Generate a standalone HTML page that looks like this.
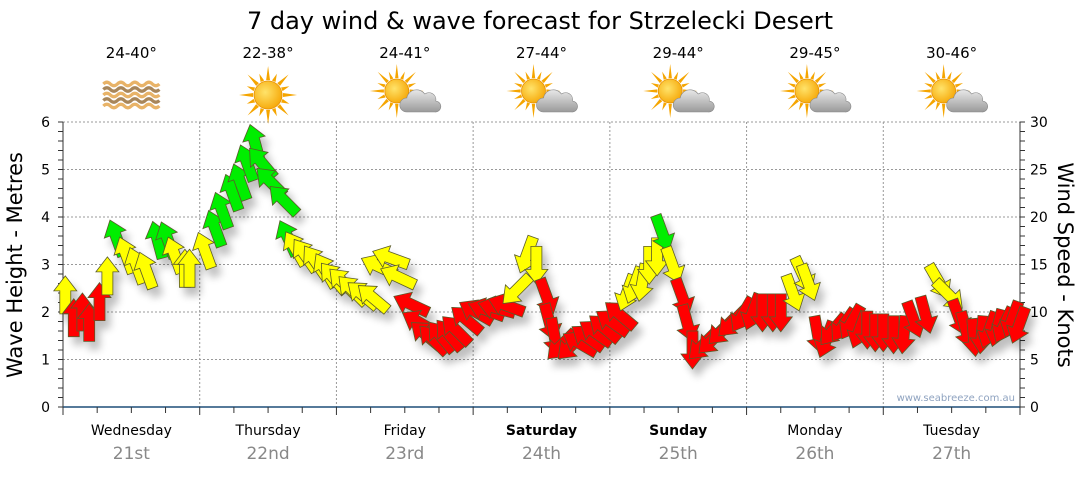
<!DOCTYPE html>
<html><head><meta charset="utf-8"><style>
html,body{margin:0;padding:0;background:#fff;}
svg text{font-family:"DejaVu Sans","Liberation Sans",sans-serif;}
</style></head><body>
<svg id="chart" width="1080" height="475" viewBox="0 0 1080 475" xmlns="http://www.w3.org/2000/svg">
<defs>
<filter id="sh" x="-50%" y="-50%" width="200%" height="200%"><feGaussianBlur in="SourceAlpha" stdDeviation="4"/><feOffset dx="5" dy="8" result="b"/><feComponentTransfer><feFuncA type="linear" slope="0.25"/></feComponentTransfer><feMerge><feMergeNode/><feMergeNode in="SourceGraphic"/></feMerge></filter>
<radialGradient id="sunG" cx="0.4" cy="0.4" r="0.7"><stop offset="0" stop-color="#ffe36a"/><stop offset="1" stop-color="#f5a300"/></radialGradient>
<linearGradient id="cloudG" x1="0" y1="0" x2="0" y2="1"><stop offset="0" stop-color="#e8e8e8"/><stop offset="1" stop-color="#9a9a9a"/></linearGradient>
</defs>
<text x="540" y="29" text-anchor="middle" font-size="24" fill="#000">7 day wind &amp; wave forecast for Strzelecki Desert</text>
<g id="grid"></g>
<g id="axes"></g>
<g id="icons"></g>
<g id="marks" filter="url(#sh)"></g>
<text x="1015" y="401" text-anchor="end" font-size="10" fill="#8fa3c0">www.seabreeze.com.au</text>
<text transform="translate(22,265) rotate(-90)" text-anchor="middle" font-size="21" fill="#000">Wave Height - Metres</text>
<text transform="translate(1058,265) rotate(90)" text-anchor="middle" font-size="21" fill="#000">Wind Speed - Knots</text>
</svg>
<script>
const dayNames = ["Wednesday","Thursday","Friday","Saturday","Sunday","Monday","Tuesday"];
const dayDates = ["21st","22nd","23rd","24th","25th","26th","27th"];
const boldDays = [false,false,false,true,true,false,false];
const tempRanges = ["24-40°","22-38°","24-41°","27-44°","29-44°","29-45°","30-46°"];
const iconTypes = ["haze","sun","partly","partly","partly","partly","partly"];
const leftTicks = [0,1,2,3,4,5,6];
const rightTicks = [0,5,10,15,20,25,30];
const hours = [0.4,1.9,3.4,4.6,6.4,7.8,9.4,11.1,12.9,14.6,16.6,18.4,19.6,21.4,22.2,24.9,26.7,27.9,29.7,31.1,32.3,33.7,34.9,36.4,38.7,39.5,40.8,42.5,44.3,46.1,47.5,49.2,50.8,52.6,54.4,55.4,57.5,58.8,61.1,62.5,63.7,65.0,66.4,67.8,69.0,70.8,72.5,74.3,76.1,77.8,79.6,81.4,83.1,84.9,85.4,86.3,87.5,89.3,90.7,92.1,93.5,95.0,96.4,97.8,99.0,100.3,101.7,102.9,104.3,105.2,107.0,108.7,109.6,110.5,112.3,114.0,115.8,117.5,119.3,121.1,122.8,124.6,126.0,128.1,129.9,130.8,132.5,134.0,135.2,137.0,138.4,139.8,141.2,142.6,144.0,145.8,147.6,149.3,151.4,153.7,155.5,157.3,158.5,159.9,161.3,162.6,164.0,165.2,166.6,167.8];
const windKnots = [11.8,9.4,10.0,8.9,11.1,13.8,17.8,16.0,14.9,14.4,17.6,17.6,16.0,14.6,14.6,16.5,18.8,20.7,22.6,23.7,25.7,27.8,25.7,23.7,21.8,17.8,16.7,16.0,15.3,14.4,13.6,13.1,12.3,11.8,11.5,14.8,15.7,13.7,10.8,8.9,7.6,7.1,7.4,7.6,8.1,9.2,10.0,10.2,10.4,10.7,12.3,16.0,14.9,11.6,8.9,7.4,6.5,6.5,6.7,7.3,7.8,8.3,8.9,9.7,12.0,12.8,13.1,14.9,15.8,18.3,14.9,11.6,8.8,6.0,6.5,7.1,8.1,8.9,9.7,10.0,9.9,9.9,9.9,12.0,13.9,13.1,7.6,7.1,8.1,8.6,8.9,8.1,8.1,7.8,7.8,7.6,7.6,9.2,9.7,13.2,11.8,9.4,8.1,7.3,7.6,8.1,8.3,8.6,9.2,8.6];
const windDir = [0,0,0,0,0,0,-20,-20,-20,-20,-15,-20,-20,0,0,-20,-20,-20,-20,-20,-20,-15,-40,-45,-45,-25,-30,-35,-35,-30,-40,-45,-45,-50,-50,-65,-70,-65,-65,-60,-50,-45,-40,-40,-45,-50,-60,-70,-75,-70,225,200,180,160,165,170,225,225,-60,-55,-55,-50,-55,-50,200,200,190,180,180,160,160,160,165,180,225,225,225,225,210,200,180,180,180,160,155,160,170,200,220,215,210,200,180,180,180,180,185,160,165,150,135,160,165,175,185,200,195,205,200,200];
const windLevel = ["Y","R","R","R","R","Y","G","Y","Y","Y","G","G","Y","Y","Y","Y","G","G","G","G","G","G","G","G","G","G","Y","Y","Y","Y","Y","Y","Y","Y","Y","Y","Y","Y","R","R","R","R","R","R","R","R","R","R","R","R","Y","Y","Y","R","R","R","R","R","R","R","R","R","R","R","Y","Y","Y","Y","Y","G","Y","R","R","R","R","R","R","R","R","R","R","R","R","Y","Y","Y","R","R","R","R","R","R","R","R","R","R","R","R","R","Y","Y","R","R","R","R","R","R","R","R","R"];

const X0=63, X1=1020, Y0=407, Y1=122;
const DAYW=(X1-X0)/7;
const xH = h => X0 + h*DAYW/24;
const yM = m => Y0 - m*(Y0-Y1)/6;
const yK = k => Y0 - k*(Y0-Y1)/30;
const NS="http://www.w3.org/2000/svg";
function mk(tag, attrs, parent, txt){const e=document.createElementNS(NS,tag);for(const k in attrs)e.setAttribute(k,attrs[k]);if(txt!==undefined)e.textContent=txt;parent.appendChild(e);return e;}
const grid=document.getElementById('grid'), axes=document.getElementById('axes'), icons=document.getElementById('icons'), marks=document.getElementById('marks');

leftTicks.forEach(t=>{
  if(t>0){const g=mk('line',{x1:X0,x2:X1,y1:yM(t),y2:yM(t),stroke:'#999','stroke-dasharray':'2,2','stroke-width':1},grid);
  
  }
  const l=mk('text',{x:X0-13,y:yM(t)+5,'text-anchor':'end','font-size':14,fill:'#000'},axes,String(t));
  
  
});
for(let i=0;i<=30;i++){const y=yM(i*0.2);mk('line',{x1:X0-5,x2:X0,y1:y,y2:y,stroke:'#333','stroke-width':1},axes);}
rightTicks.forEach(t=>{
  const l=mk('text',{x:X1+10,y:yK(t)+5,'text-anchor':'start','font-size':14,fill:'#000'},axes,String(t));
  
  
});
for(let i=0;i<=30;i++){const y=yK(i);mk('line',{x1:X1,x2:X1+5,y1:y,y2:y,stroke:'#333','stroke-width':1},axes);}
for(let d=1;d<7;d++){const x=X0+d*DAYW;const g=mk('line',{x1:x,x2:x,y1:Y1,y2:Y0,stroke:'#999','stroke-dasharray':'2,2'},grid);
  
  }
mk('line',{x1:X0,x2:X0,y1:Y1,y2:Y0,stroke:'#333'},axes);
mk('line',{x1:X1,x2:X1,y1:Y1,y2:Y0,stroke:'#333'},axes);
mk('line',{x1:X0,x2:X1,y1:Y0,y2:Y0,stroke:'#1f4e79','stroke-width':1.5},axes);
for(let i=0;i<=28;i++){const x=X0+i*DAYW/4;mk('line',{x1:x,x2:x,y1:Y0,y2:Y0+(i%4===0?8:6),stroke:'#333'},axes);}

dayNames.forEach((n,i)=>{
  const cx=X0+(i+0.5)*DAYW;
  const a=mk('text',{x:cx,y:435,'text-anchor':'middle','font-size':14,fill:'#000','font-weight':boldDays[i]?'bold':'normal'},axes,n);
  
  
  const b=mk('text',{x:cx,y:459,'text-anchor':'middle','font-size':17,fill:'#888'},axes,dayDates[i]);
  
  
  const t=mk('text',{x:cx,y:58,'text-anchor':'middle','font-size':15,fill:'#000'},icons,tempRanges[i]);
  
  
  const g=mk('g',{transform:`translate(${cx},95)`},icons);
  
  
  if(iconTypes[i]==='haze'){
    for(let r=0;r<5;r++){const y=-11+r*5.5;let d=`M-28 ${y}`;for(let k=0;k<8;k++){d+=` q3.5 ${k%2?3.5:-3.5} 7 0`;}
      mk('path',{d:d,fill:'none',stroke:r%2?'#a8865a':'#e8b368','stroke-width':3.2},g);}
  } else {
    const sx = iconTypes[i]==='sun'?0:-8, sy=iconTypes[i]==='sun'?0:-4, R=iconTypes[i]==='sun'?14:12;
    const s=mk('g',{transform:`translate(${sx},${sy})`},g);
    for(let k=0;k<16;k++){const ang=k*Math.PI/8;const L=k%2?R+9:R+15;
      const p1=[Math.cos(ang)*L,Math.sin(ang)*L],p2=[Math.cos(ang+0.13)*(R+1),Math.sin(ang+0.13)*(R+1)],p3=[Math.cos(ang-0.13)*(R+1),Math.sin(ang-0.13)*(R+1)];
      mk('polygon',{points:`${p1} ${p2} ${p3}`,fill:'#f5a500'},s);}
    mk('circle',{cx:0,cy:0,r:R,fill:'url(#sunG)',stroke:'#e89000','stroke-width':0.8},s);
    if(iconTypes[i]==='partly'){
      mk('path',{d:'M2 17 a7 7 0 0 1 0-14 a10 10 0 0 1 18-4 a7 7 0 0 1 11 7 a5.5 5.5 0 0 1 -1 11 Z',fill:'url(#cloudG)',stroke:'#888','stroke-width':0.6},g);
    }
  }
});

const colorMap={R:'#ff0000',Y:'#ffff00',G:'#00ee00'};
const arrowPts="0,-19 11.5,-4 5.5,-4 5.5,19 -5.5,19 -5.5,-4 -11.5,-4";
hours.forEach((h,i)=>{
  const p=mk('polygon',{points:arrowPts,transform:`translate(${xH(h).toFixed(1)},${yK(windKnots[i]).toFixed(1)}) rotate(${windDir[i]})`,fill:colorMap[windLevel[i]],stroke:'#5a5a2a','stroke-width':0.8,'stroke-linejoin':'miter'},marks);
  
  
});
</script>
</body></html>
